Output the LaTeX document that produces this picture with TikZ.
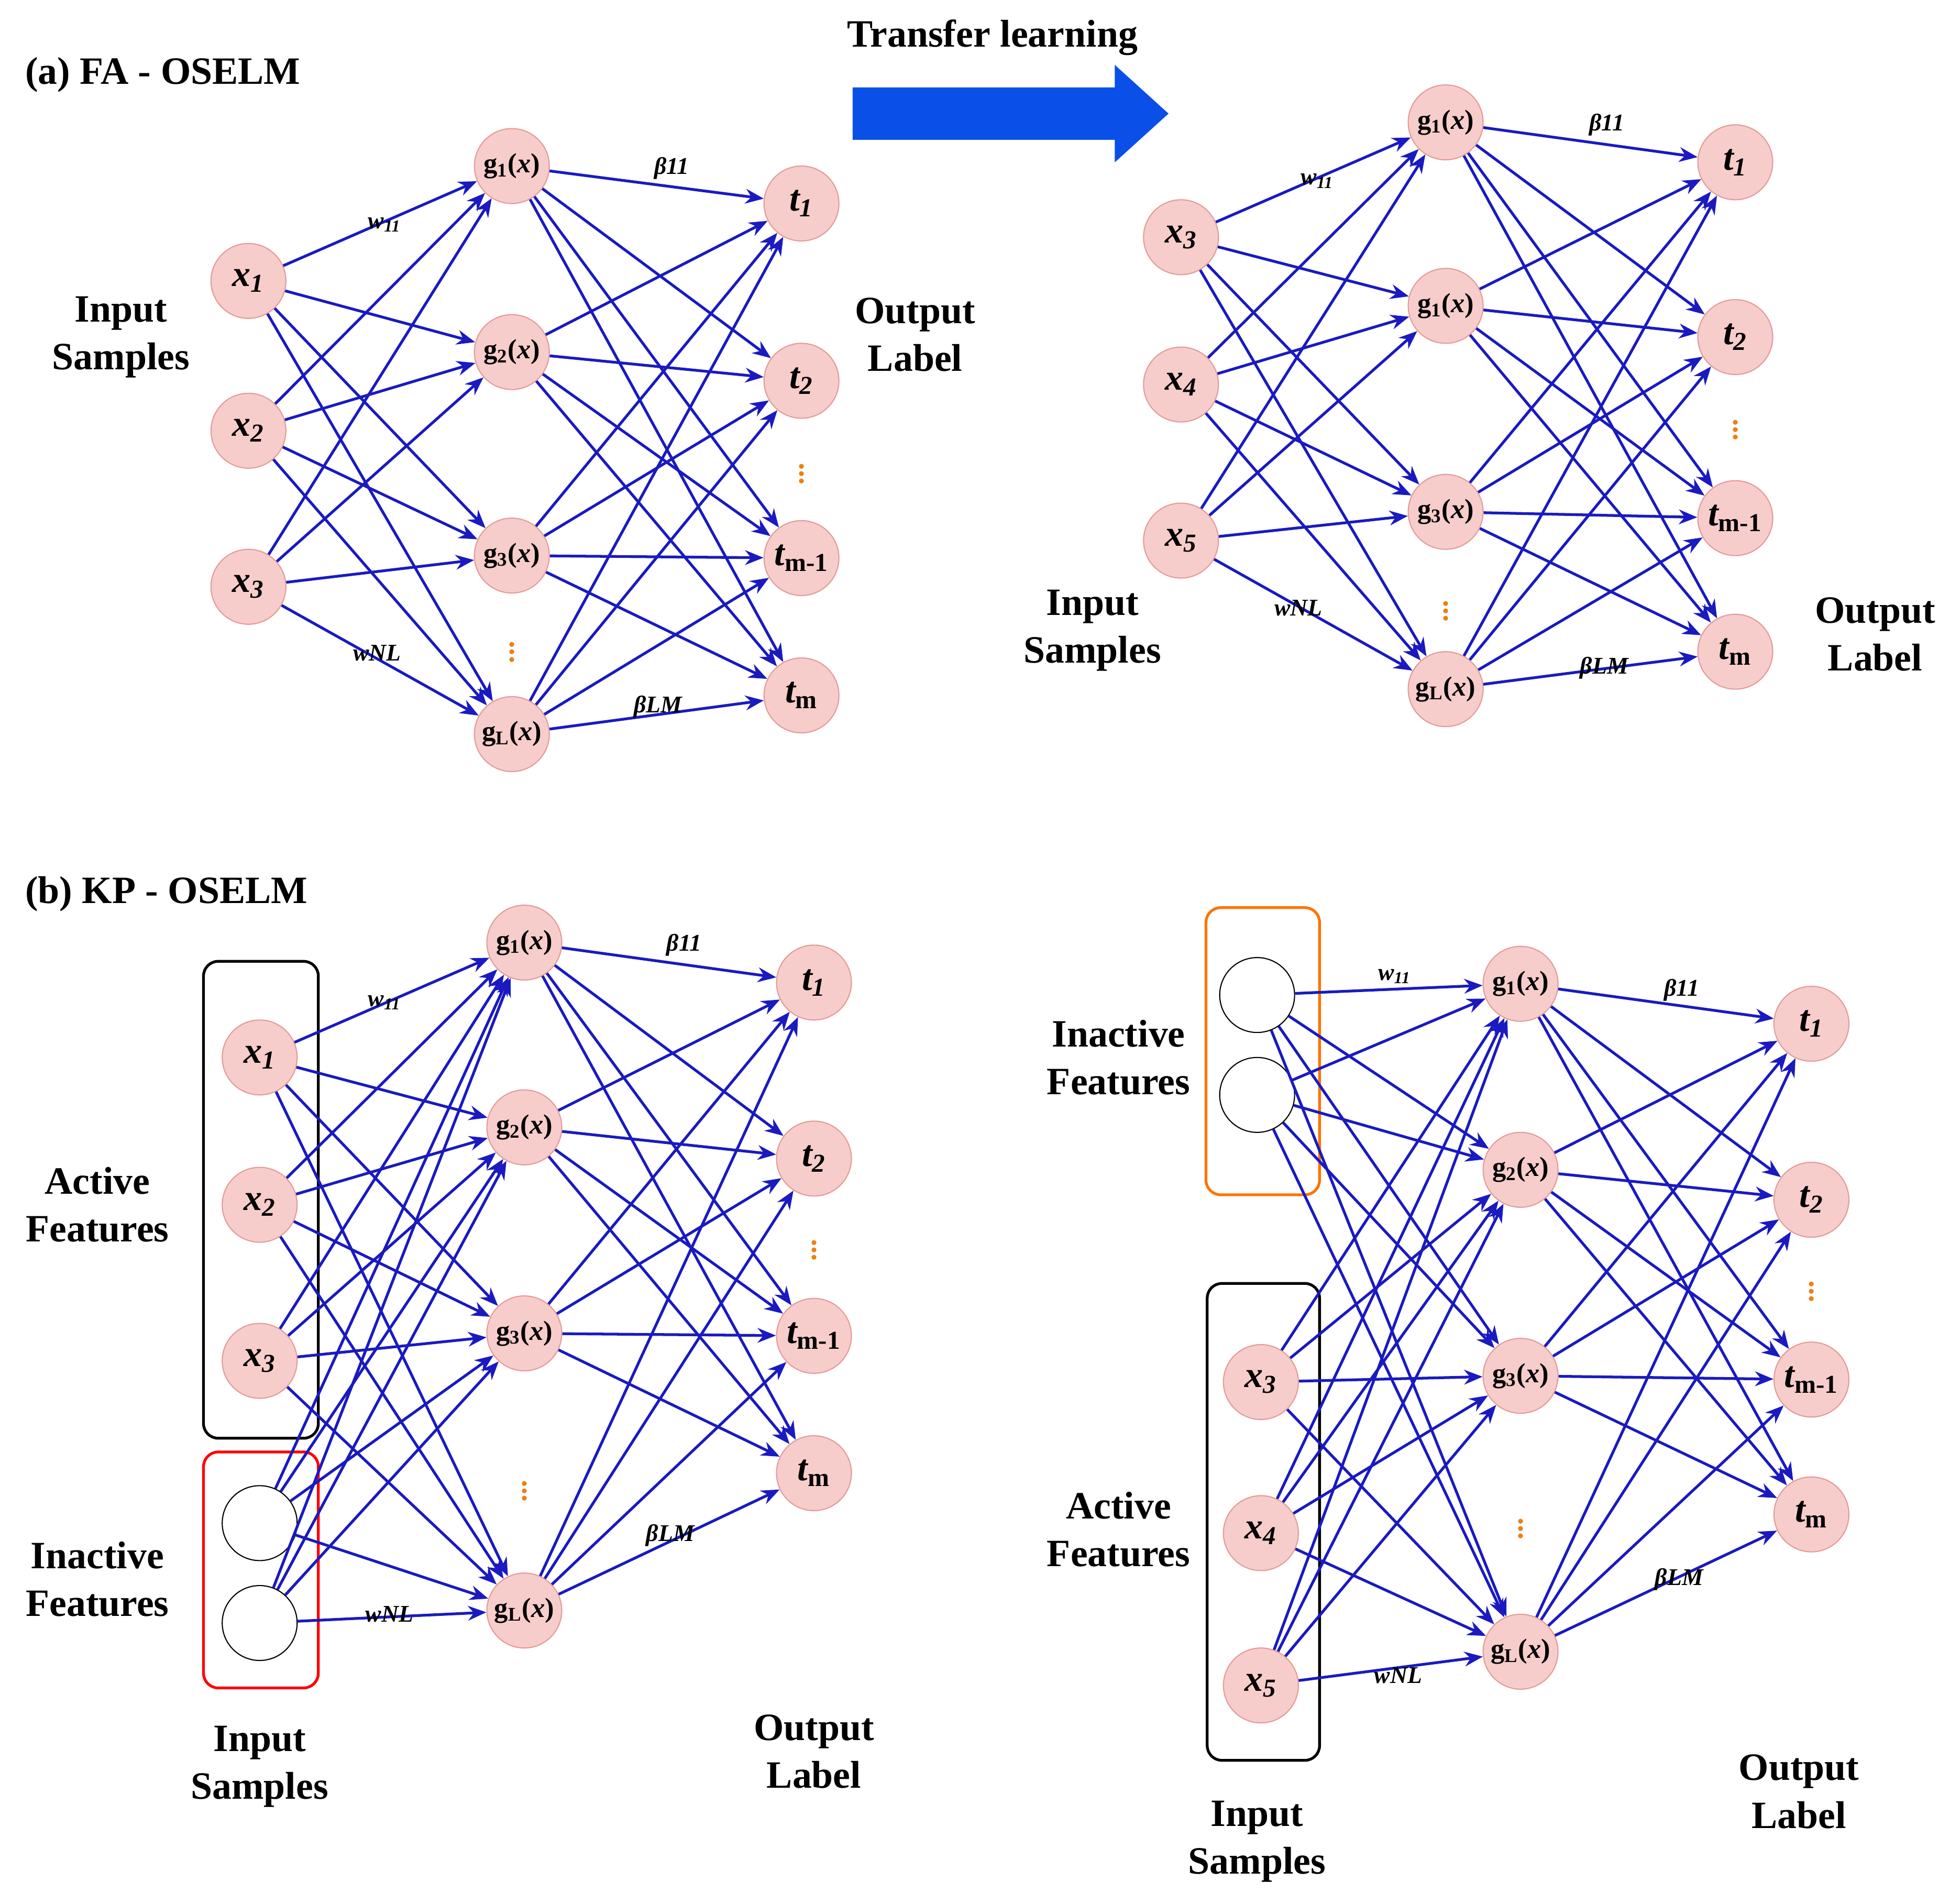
\documentclass[tikz,border=0pt]{standalone}
\usepackage{fontspec}
\setmainfont{Liberation Serif}
\usetikzlibrary{arrows.meta}
\definecolor{edge}{HTML}{1A1AC0}
\definecolor{nfill}{HTML}{F6CDCB}
\definecolor{ndraw}{HTML}{E59A98}
\begin{document}
\begin{tikzpicture}[x=0.02384cm,y=-0.02384cm,
  neu/.style={circle,fill=nfill,draw=ndraw,line width=0.6pt,minimum size=1.43cm,inner sep=0pt,font=\fontsize{20}{20}\selectfont\bfseries\itshape},
  gneu/.style={neu,font=\fontsize{15}{15}\selectfont\bfseries},
  emp/.style={circle,draw=black,line width=0.6pt,minimum size=1.43cm,fill=white},
  con/.style={draw=edge,line width=1.5pt,-{Stealth[length=10pt,width=8pt]}},
  lab/.style={font=\fontsize{21}{26}\selectfont\bfseries,align=center},
  elab/.style={font=\fontsize{13}{13}\selectfont\bfseries\itshape},
  dts/.style={font=\fontsize{16}{16}\selectfont\bfseries,text=orange!70!brown,inner sep=0pt}]
\useasboundingbox (0,0) rectangle (1562,1525);
% ===== panel a left
\node[lab,anchor=west] (ta) at (15,60) {(a) FA - OSELM};
\node[neu] (a1) at (199,225) {x\textsubscript{1}};
\node[neu] (a2) at (199,345) {x\textsubscript{2}};
\node[neu] (a3) at (199,470) {x\textsubscript{3}};
\node[gneu] (ag1) at (410,133) {g\textsubscript{1}(\textit{x})};
\node[gneu] (ag2) at (410,282) {g\textsubscript{2}(\textit{x})};
\node[gneu] (ag3) at (410,445) {g\textsubscript{3}(\textit{x})};
\node[gneu] (ag4) at (410,588) {g\textsubscript{L}(\textit{x})};
\node[neu] (at1) at (642,163) {t\textsubscript{1}};
\node[neu] (at2) at (642,305) {t\textsubscript{2}};
\node[neu] (at3) at (642,447) {t\textsubscript{\upshape m-1}};
\node[neu] (at4) at (642,557) {t\textsubscript{\upshape m}};
\node[dts] (ad1) at (410,518) {$\vdots$};
\node[dts] (ad2) at (642,375) {$\vdots$};
\foreach \i in {1,2,3}{\foreach \j in {1,2,3,4}{\draw[con] (a\i) -- (ag\j);}}
\foreach \i in {1,2,3,4}{\foreach \j in {1,2,3,4}{\draw[con] (ag\i) -- (at\j);}}
\node[elab] (aw1) at (308,180) {w\textsubscript{11}};
\node[elab] (aw2) at (302,523) {wNL};
\node[elab] (ab1) at (538,135) {β11};
\node[elab] (ab2) at (527,566) {βLM};
\node[lab] (ain) at (97,270) {Input\\Samples};
\node[lab] (aout) at (733,268) {Output\\Label};
% transfer arrow
\fill[color={rgb,255:red,10;green,80;blue,232}] (683,70) -- (893,70) -- (893,52) -- (936,91) -- (893,130) -- (893,112) -- (683,112) -- cycle;
\node[lab] (tl) at (795,30) {Transfer learning};
% ===== panel a right
\node[neu] (r1) at (946,190) {x\textsubscript{3}};
\node[neu] (r2) at (946,308) {x\textsubscript{4}};
\node[neu] (r3) at (946,433) {x\textsubscript{5}};
\node[gneu] (rg1) at (1158,98) {g\textsubscript{1}(\textit{x})};
\node[gneu] (rg2) at (1158,245) {g\textsubscript{1}(\textit{x})};
\node[gneu] (rg3) at (1158,410) {g\textsubscript{3}(\textit{x})};
\node[gneu] (rg4) at (1158,552) {g\textsubscript{L}(\textit{x})};
\node[neu] (rt1) at (1390,130) {t\textsubscript{1}};
\node[neu] (rt2) at (1390,270) {t\textsubscript{2}};
\node[neu] (rt3) at (1390,415) {t\textsubscript{\upshape m-1}};
\node[neu] (rt4) at (1390,522) {t\textsubscript{\upshape m}};
\node[dts] (rd1) at (1158,485) {$\vdots$};
\node[dts] (rd2) at (1390,340) {$\vdots$};
\foreach \i in {1,2,3}{\foreach \j in {1,2,3,4}{\draw[con] (r\i) -- (rg\j);}}
\foreach \i in {1,2,3,4}{\foreach \j in {1,2,3,4}{\draw[con] (rg\i) -- (rt\j);}}
\node[elab] (rw1) at (1055,145) {w\textsubscript{11}};
\node[elab] (rw2) at (1040,487) {wNL};
\node[elab] (rb1) at (1287,100) {β11};
\node[elab] (rb2) at (1285,535) {βLM};
\node[lab] (rin) at (875,505) {Input\\Samples};
\node[lab] (rout) at (1502,508) {Output\\Label};
% ===== panel b left
\node[lab,anchor=west] (tb) at (15,716) {(b) KP - OSELM};
\draw[line width=1.5pt,rounded corners=8pt] (163,770) rectangle (255,1152);
\draw[red,line width=1.5pt,rounded corners=8pt] (163,1163) rectangle (255,1352);
\node[neu] (b1) at (208,847) {x\textsubscript{1}};
\node[neu] (b2) at (208,965) {x\textsubscript{2}};
\node[neu] (b3) at (208,1090) {x\textsubscript{3}};
\node[emp] (b4) at (208,1220) {};
\node[emp] (b5) at (208,1300) {};
\node[gneu] (bg1) at (420,755) {g\textsubscript{1}(\textit{x})};
\node[gneu] (bg2) at (420,903) {g\textsubscript{2}(\textit{x})};
\node[gneu] (bg3) at (420,1068) {g\textsubscript{3}(\textit{x})};
\node[gneu] (bg4) at (420,1290) {g\textsubscript{L}(\textit{x})};
\node[neu] (bt1) at (652,787) {t\textsubscript{1}};
\node[neu] (bt2) at (652,928) {t\textsubscript{2}};
\node[neu] (bt3) at (652,1070) {t\textsubscript{\upshape m-1}};
\node[neu] (bt4) at (652,1180) {t\textsubscript{\upshape m}};
\node[dts] (bd1) at (420,1190) {$\vdots$};
\node[dts] (bd2) at (652,997) {$\vdots$};
\foreach \i in {1,...,5}{\foreach \j in {1,2,3,4}{\draw[con] (b\i) -- (bg\j);}}
\foreach \i in {1,2,3,4}{\foreach \j in {1,2,3,4}{\draw[con] (bg\i) -- (bt\j);}}
\node[elab] (bw1) at (308,803) {w\textsubscript{11}};
\node[elab] (bw2) at (312,1293) {wNL};
\node[elab] (bb1) at (548,757) {β11};
\node[elab] (bb2) at (537,1230) {βLM};
\node[lab] (bact) at (78,965) {Active\\Features};
\node[lab] (binact) at (78,1265) {Inactive\\Features};
\node[lab] (bin) at (208,1415) {Input\\Samples};
\node[lab] (bout) at (652,1403) {Output\\Label};
% ===== panel b right
\draw[orange!90!red,line width=1.5pt,rounded corners=8pt] (966,727) rectangle (1057,957);
\draw[line width=1.5pt,rounded corners=8pt] (967,1028) rectangle (1057,1410);
\node[emp] (c1) at (1007,797) {};
\node[emp] (c2) at (1007,877) {};
\node[neu] (c3) at (1010,1107) {x\textsubscript{3}};
\node[neu] (c4) at (1010,1228) {x\textsubscript{4}};
\node[neu] (c5) at (1010,1350) {x\textsubscript{5}};
\node[gneu] (cg1) at (1218,788) {g\textsubscript{1}(\textit{x})};
\node[gneu] (cg2) at (1218,937) {g\textsubscript{2}(\textit{x})};
\node[gneu] (cg3) at (1218,1102) {g\textsubscript{3}(\textit{x})};
\node[gneu] (cg4) at (1218,1323) {g\textsubscript{L}(\textit{x})};
\node[neu] (ct1) at (1451,820) {t\textsubscript{1}};
\node[neu] (ct2) at (1451,961) {t\textsubscript{2}};
\node[neu] (ct3) at (1451,1105) {t\textsubscript{\upshape m-1}};
\node[neu] (ct4) at (1451,1213) {t\textsubscript{\upshape m}};
\node[dts] (cd1) at (1218,1220) {$\vdots$};
\node[dts] (cd2) at (1451,1030) {$\vdots$};
\foreach \i in {1,...,5}{\foreach \j in {1,2,3,4}{\draw[con] (c\i) -- (cg\j);}}
\foreach \i in {1,2,3,4}{\foreach \j in {1,2,3,4}{\draw[con] (cg\i) -- (ct\j);}}
\node[elab] (cw1) at (1117,782) {w\textsubscript{11}};
\node[elab] (cw2) at (1120,1342) {wNL};
\node[elab] (cb1) at (1347,793) {β11};
\node[elab] (cb2) at (1345,1265) {βLM};
\node[lab] (cinact) at (896,847) {Inactive\\Features};
\node[lab] (cact) at (896,1225) {Active\\Features};
\node[lab] (cin) at (1007,1475) {Input\\Samples};
\node[lab] (cout) at (1441,1435) {Output\\Label};
\end{tikzpicture}
\end{document}
